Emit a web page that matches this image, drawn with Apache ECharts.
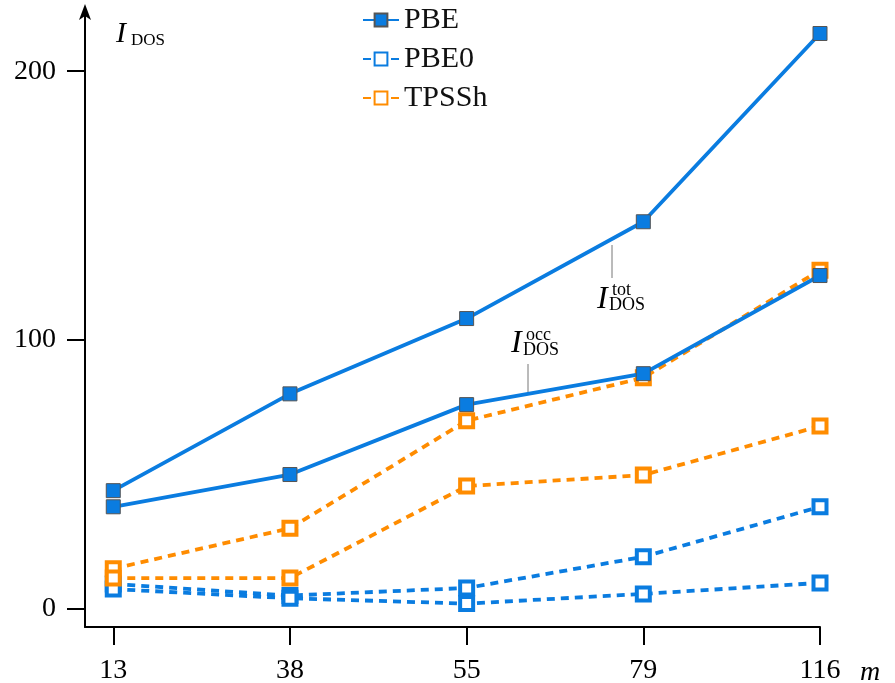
<!DOCTYPE html>
<html><head><meta charset="utf-8">
<script src="https://cdn.jsdelivr.net/npm/echarts@6/dist/echarts.min.js"></script>
<style>html,body{margin:0;padding:0;background:#fff}#c{width:895px;height:683px}</style>
</head><body><div id="c"></div>
<script>
const categories = ['13', '38', '55', '79', '116'];
const yTicks = [0, 100, 200];
const pbeTot = [44, 80, 108, 144, 214];
const pbeOcc = [38, 50, 76, 87.5, 124];
const pbe0Tot = [9.3, 5, 7.8, 19.4, 38];
const pbe0Occ = [7.4, 4, 2, 5.6, 9.7];
const tpsshTot = [15, 30, 70, 86, 126];
const tpsshOcc = [11.5, 11.5, 45.7, 49.8, 68];

const BLUE = '#0a7ce0';
const ORANGE = '#ff8c00';
const FONT = 'Liberation Serif';
const toPts = arr => arr.map((v, i) => [i, v]);

function mk(name, data, color, dashed, filled) {
  return {
    type: 'line', name: name, data: toPts(data),
    symbol: 'rect', symbolSize: filled ? 14 : 13,
    lineStyle: { color: color, width: 3.8, type: dashed ? [8, 6] : 'solid' },
    itemStyle: filled ? { color: color, borderColor: '#555', borderWidth: 1 }
                      : { color: '#fff', borderColor: color, borderWidth: 4 },
    z: filled ? 3 : 2
  };
}

function txt(x, y, s, size, italic) {
  return { type: 'text', x: x, y: y, style: { text: s,
    font: (italic ? 'italic ' : '') + size + 'px "' + FONT + '"', fill: '#000',
    verticalAlign: 'middle', align: 'left' } };
}

const chart = echarts.init(document.getElementById('c'));
chart.setOption({
  animation: false,
  textStyle: { fontFamily: FONT },
  grid: { left: 85, right: 75, top: 12, bottom: 56, outerBoundsMode: 'none', containLabel: false },
  legend: {
    orient: 'vertical', left: 357, top: 0, itemGap: 9,
    itemWidth: 36, itemHeight: 16,
    textStyle: { fontFamily: FONT, fontSize: 30, color: '#111' },
    data: ['PBE', 'PBE0', 'TPSSh']
  },
  xAxis: {
    type: 'value', min: -0.16, max: 4,
    axisLine: { onZero: false, lineStyle: { color: '#000', width: 2 } },
    axisTick: { customValues: [0, 1, 2, 3, 4], length: 18, lineStyle: { color: '#000', width: 2 } },
    axisLabel: { customValues: [0, 1, 2, 3, 4], formatter: v => categories[Math.round(v)],
      fontFamily: FONT, fontSize: 28, color: '#000', margin: 30 },
    splitLine: { show: false },
    name: 'm', nameLocation: 'end', nameGap: 40,
    nameTextStyle: { fontFamily: FONT, fontSize: 28, fontStyle: 'italic', color: '#000',
      verticalAlign: 'top', padding: [32, 0, 0, 0] }
  },
  yAxis: {
    type: 'value', min: -6.7, max: 222,
    axisLine: { show: true, onZero: false, symbol: ['none', 'arrow'], symbolSize: [9, 16], symbolOffset: [0, 8],
      lineStyle: { color: '#000', width: 2 } },
    axisTick: { show: true, customValues: yTicks, length: 18, lineStyle: { color: '#000', width: 2 } },
    axisLabel: { customValues: yTicks, fontFamily: FONT, fontSize: 28, color: '#000', margin: 29 },
    splitLine: { show: false }
  },
  graphic: [
    txt(116, 34, 'I', 30, true),
    txt(131, 41, 'DOS', 17, false),
    { type: 'line', shape: { x1: 612, y1: 245, x2: 612, y2: 278 }, style: { stroke: '#777', lineWidth: 1 } },
    txt(597, 300, 'I', 32, true),
    txt(612, 290, 'tot', 18, false),
    txt(609, 305, 'DOS', 18, false),
    { type: 'line', shape: { x1: 528, y1: 364, x2: 528, y2: 392 }, style: { stroke: '#777', lineWidth: 1 } },
    txt(511, 344, 'I', 32, true),
    txt(526, 335, 'occ', 18, false),
    txt(523, 350, 'DOS', 18, false)
  ],
  series: [
    mk('PBE', pbeTot, BLUE, false, true),
    mk('PBE', pbeOcc, BLUE, false, true),
    mk('PBE0', pbe0Tot, BLUE, true, false),
    mk('PBE0', pbe0Occ, BLUE, true, false),
    mk('TPSSh', tpsshTot, ORANGE, true, false),
    mk('TPSSh', tpsshOcc, ORANGE, true, false)
  ]
});
</script></body></html>
